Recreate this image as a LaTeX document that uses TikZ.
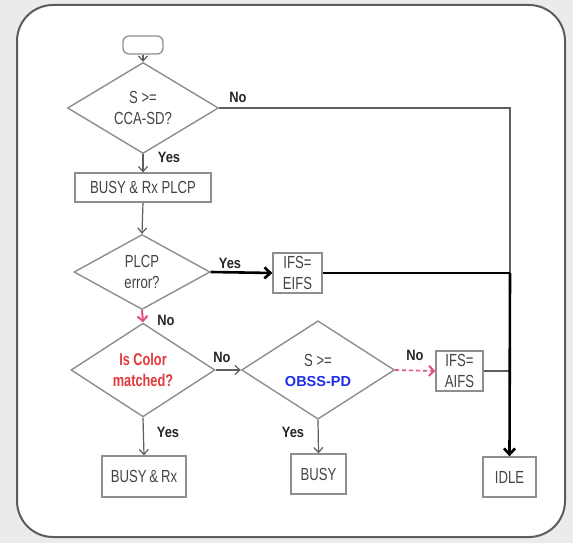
\documentclass[tikz,border=0pt]{standalone}
\usepackage{fontspec}
\setmainfont{Liberation Sans}
\newfontfamily\condf[FakeStretch=0.75]{Liberation Sans}
\newfontfamily\lblf[FakeStretch=0.86]{Liberation Sans}
\usetikzlibrary{shapes.geometric,arrows.meta}
\definecolor{bg}{HTML}{EBEBEB}
\definecolor{frame}{HTML}{5C5C5C}
\definecolor{shapeline}{HTML}{8E8E8E}
\definecolor{conn}{HTML}{5E5E5E}
\definecolor{txt}{HTML}{444444}
\definecolor{pinkc}{HTML}{E2508A}
\definecolor{redc}{HTML}{E23A3A}
\definecolor{bluec}{HTML}{1E2EE8}
\tikzset{
  dec/.style={draw=shapeline,line width=1.4pt,diamond,aspect=1,inner sep=0pt,align=center,
    text=txt,font=\condf\fontsize{17.5}{21}\selectfont},
  boxn/.style={draw=shapeline,line width=1.3pt,rectangle,inner sep=0pt,align=center,
    text=txt,font=\condf\fontsize{17.5}{21}\selectfont,fill=white},
  conn/.style={draw=conn,line width=1.2pt,-{Straight Barb[length=5pt,width=9pt,line width=1.2pt]}},
  plain/.style={draw=conn,line width=1.4pt},
  thickc/.style={draw=black,line width=2.6pt},
  thicka/.style={draw=black,line width=2.6pt,-{Straight Barb[length=6pt,width=11pt,line width=2.6pt]}},
  pinka/.style={draw=pinkc,line width=2pt,-{Straight Barb[length=5pt,width=10pt,line width=2pt]}},
  lbl/.style={font=\lblf\bfseries\fontsize{15}{17}\selectfont,text=black!85,inner sep=0pt},
}
\begin{document}
\begin{tikzpicture}[x=1pt,y=-1pt]
\useasboundingbox (0,0) rectangle (573,543);
\fill[bg] (0,0) rectangle (573,543);
\draw[frame,line width=2pt,fill=white,rounded corners=36pt] (17,5) rectangle (565,537);

% nodes
\node[draw=shapeline,line width=1.3pt,rounded corners=6pt,minimum width=40pt,minimum height=18pt,inner sep=0pt] (start) at (143,45) {};
\node[dec,minimum width=151pt,minimum height=67pt] (d1) at (143,108) {S >=\\CCA-SD?};
\node[boxn,minimum width=136pt,minimum height=29pt] (b1) at (143,187.5) {BUSY \& Rx PLCP};
\node[dec,minimum width=136pt,minimum height=75pt] (d2) at (142,272) {PLCP\\error?};
\node[boxn,minimum width=49pt,minimum height=40pt] (eifs) at (297.5,273) {IFS=\\EIFS};
\node[dec,minimum width=144pt,minimum height=66pt,text=redc,font=\condf\bfseries\fontsize{17}{21}\selectfont] (d3) at (143,370) {Is Color\\matched?};
\node[dec,minimum width=153pt,minimum height=83pt] (d4) at (318,370) {S >=\\[-1pt]{\fontspec{Liberation Sans}\bfseries\fontsize{14.5}{16}\selectfont\color{bluec}OBSS-PD}};
\node[boxn,minimum width=47pt,minimum height=40pt] (aifs) at (459.5,371) {IFS=\\AIFS};
\node[boxn,minimum width=84pt,minimum height=41pt] (busyrx) at (144,476.5) {BUSY\,\&\,Rx};
\node[boxn,minimum width=55pt,minimum height=40pt] (busy) at (318.5,474) {BUSY};
\node[boxn,minimum width=53pt,minimum height=40pt] (idle) at (509.5,477) {IDLE};
\coordinate (c1) at (510,108);
\coordinate (c2) at (510,273);
\coordinate (c3) at (510,371);

% connectors
\draw[conn] (start) -- (d1.north);
\draw[plain] (d1.east) -- (c1) -- (c2);
\draw[conn] (d1.south) -- (b1.north);
\draw[conn] (b1.south) -- (d2.north);
\draw[thicka] (d2.east) -- (eifs.west);
\draw[thickc] (eifs.east) -- (c2);
\draw[plain] (aifs.east) -- (c3);
\draw[thicka] (c2) -- (idle.north);
\draw[pinka] (d2.south) -- (d3.north);
\draw[conn] (d3.east) -- (d4.west);
\draw[pinka,dashed,dash pattern=on 4pt off 3pt,line width=1.6pt] (d4.east) -- (aifs.west);
\draw[conn] (d3.south) -- (busyrx.north);
\draw[conn] (d4.south) -- (busy.north);

% labels
\node[lbl] (l1) at (238,97) {No};
\node[lbl] (l2) at (169,157) {Yes};
\node[lbl] (l3) at (230,263) {Yes};
\node[lbl] (l4) at (166,320) {No};
\node[lbl] (l5) at (222,357) {No};
\node[lbl] (l6) at (415,355) {No};
\node[lbl] (l7) at (168,432) {Yes};
\node[lbl] (l8) at (293,432) {Yes};
\end{tikzpicture}
\end{document}
